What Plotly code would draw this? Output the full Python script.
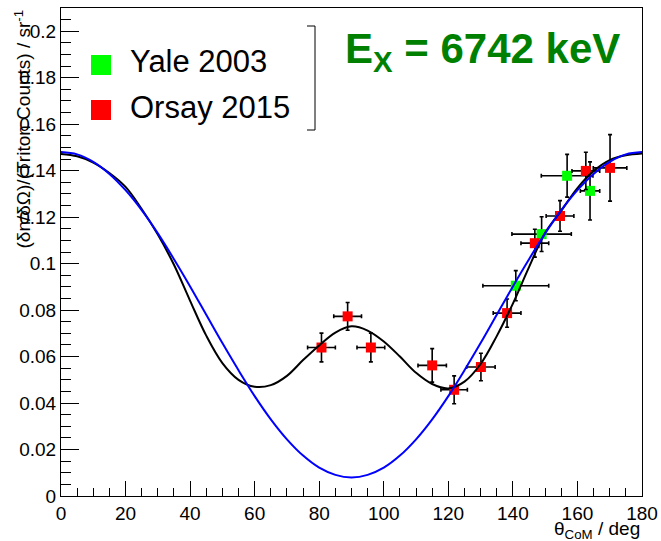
import plotly.graph_objects as go

# ---- data ----
yale_theta = [140.9, 148.9, 156.8, 163.9]
yale_theta_err = [10.2, 9.2, 8.0, 3.0]
yale_y = [0.0905, 0.1127, 0.1378, 0.1313]
yale_y_err = [0.0065, 0.0075, 0.0092, 0.0125]

orsay_theta = [80.7, 88.8, 96.0, 115.0, 121.8, 130.1, 138.2, 146.8, 154.6, 162.6, 170.1]
orsay_theta_err = [4.3, 4.3, 4.3, 4.4, 4.1, 4.4, 4.3, 4.3, 4.3, 4.3, 5.2]
orsay_y = [0.0639, 0.0773, 0.0639, 0.0562, 0.0457, 0.0555, 0.0787, 0.1088, 0.1205, 0.1399, 0.1412]
orsay_y_err = [0.0062, 0.0060, 0.0062, 0.0072, 0.0060, 0.0059, 0.0061, 0.0060, 0.0066, 0.0080, 0.0143]

# black fit curve
black_theta = [0, 5, 10, 15, 20, 25, 30, 35, 40, 45, 50, 55, 60, 65, 70, 75, 80, 85, 90,
               95, 100, 105, 110, 115, 120, 125, 130, 135, 140, 145, 150, 155, 160, 165,
               170, 175, 180]
black_y = [0.1472, 0.1462, 0.1435, 0.1390, 0.1330, 0.1235, 0.1125, 0.0995, 0.0840, 0.0690,
           0.0572, 0.0500, 0.0470, 0.0477, 0.0517, 0.0585, 0.0648, 0.0703, 0.0730,
           0.0712, 0.0665, 0.0600, 0.0530, 0.0482, 0.0463, 0.0492, 0.0568, 0.0688, 0.0828,
           0.0985, 0.1133, 0.1228, 0.1325, 0.1398, 0.1445, 0.1466, 0.1474]

# blue fit curve
blue_theta = [0, 5, 10, 15, 20, 25, 30, 35, 40, 45, 50, 55, 60, 65, 70, 75, 80, 85, 90,
              95, 100, 105, 110, 115, 120, 125, 130, 135, 140, 145, 150, 155, 160, 165,
              170, 175, 180]
blue_y = [0.148, 0.147, 0.1438, 0.1386, 0.1316, 0.123, 0.113, 0.1019, 0.0902, 0.078,
          0.0658, 0.0541, 0.043, 0.033, 0.0244, 0.0174, 0.0122, 0.0091, 0.008,
          0.0091, 0.0122, 0.0174, 0.0244, 0.033, 0.043, 0.0541, 0.0658, 0.078, 0.0902,
          0.1019, 0.113, 0.123, 0.1316, 0.1386, 0.1438, 0.147, 0.148]

x_ticks = [0, 20, 40, 60, 80, 100, 120, 140, 160, 180]
y_ticks = [0, 0.02, 0.04, 0.06, 0.08, 0.1, 0.12, 0.14, 0.16, 0.18, 0.2]
y_tick_text = ["0", "0.02", "0.04", "0.06", "0.08", "0.1", "0.12", "0.14", "0.16", "0.18", "0.2"]

legend_names = ["Yale 2003", "Orsay 2015"]
legend_colors = ["#00ff00", "#ff0000"]

FONT = "Liberation Sans, Arial, sans-serif"

fig = go.Figure()

def err(arr):
    return dict(type="data", array=arr, visible=True, color="black", thickness=1.6, width=2)

fig.add_trace(go.Scatter(
    x=yale_theta, y=yale_y, mode="markers", name=legend_names[0], showlegend=False,
    marker=dict(symbol="square", size=10, color=legend_colors[0], line=dict(width=0)),
    error_x=err(yale_theta_err), error_y=err(yale_y_err)))
fig.add_trace(go.Scatter(
    x=orsay_theta, y=orsay_y, mode="markers", name=legend_names[1], showlegend=False,
    marker=dict(symbol="square", size=10, color=legend_colors[1], line=dict(width=0)),
    error_x=err(orsay_theta_err), error_y=err(orsay_y_err)))
fig.add_trace(go.Scatter(
    x=black_theta, y=black_y, mode="lines", showlegend=False,
    line=dict(color="black", width=2, shape="spline", smoothing=1.0)))
fig.add_trace(go.Scatter(
    x=blue_theta, y=blue_y, mode="lines", showlegend=False,
    line=dict(color="#0000ff", width=2, shape="spline", smoothing=1.0)))

L, R, T, B = 61, 642, 8, 496
W, H = 661, 541

def px(x):
    return (x - L) / (R - L)

def py(y):
    return (B - y) / (B - T)

shapes = []
# legend bracket (right border of legend box)
for seg in [((315, 26), (315, 130)), ((307, 26), (315, 26)), ((307, 130), (315, 130))]:
    (x0, y0), (x1, y1) = seg
    shapes.append(dict(type="line", xref="paper", yref="paper",
                       x0=px(x0), y0=py(y0), x1=px(x1), y1=py(y1),
                       line=dict(color="black", width=1)))
# legend swatches
for i, c in enumerate(legend_colors):
    cy = 65 + 45 * i
    shapes.append(dict(type="rect", xref="paper", yref="paper",
                       x0=px(91), x1=px(111), y0=py(cy - 10), y1=py(cy + 10),
                       fillcolor=c, line=dict(width=0)))

annotations = []
for i, n in enumerate(legend_names):
    annotations.append(dict(text=n, xref="paper", yref="paper", x=px(128), y=py(62 + 45 * i),
                            xanchor="left", yanchor="middle", showarrow=False,
                            font=dict(family=FONT, size=31, color="black")))
annotations.append(dict(text="<b>E<sub>X</sub> = 6742 keV</b>", xref="paper", yref="paper",
                        x=px(343), y=py(52), xanchor="left", yanchor="middle", showarrow=False,
                        font=dict(family=FONT, size=42, color="#008000")))
annotations.append(dict(text="θ<sub>CoM</sub> / deg", xref="paper", yref="paper",
                        x=1.0, y=py(516), xanchor="right", yanchor="top", showarrow=False,
                        font=dict(family=FONT, size=19, color="black")))
annotations.append(dict(text="(δn/δΩ)/(Triton Counts) / sr<sup>-1</sup>", xref="paper", yref="paper",
                        x=px(22), y=1.0, xanchor="center", yanchor="top", textangle=-90,
                        showarrow=False, font=dict(family=FONT, size=19, color="black")))

fig.update_layout(
    width=W, height=H,
    margin=dict(l=L, r=W - R, t=T, b=H - B, pad=0),
    paper_bgcolor="white", plot_bgcolor="white",
    font=dict(family=FONT, size=19, color="black"),
    shapes=shapes, annotations=annotations, showlegend=False,
)
fig.update_xaxes(
    range=[0, 180], tickvals=x_ticks, ticks="inside", ticklen=15, tickwidth=1, tickcolor="black",
    showline=True, linecolor="black", linewidth=1, mirror=True, showgrid=False, zeroline=False,
    tickfont=dict(family=FONT, size=19, color="black"), automargin=False,
    minor=dict(dtick=5, tick0=0, ticks="inside", ticklen=8, tickwidth=1, tickcolor="black", showgrid=False))
fig.update_yaxes(
    range=[0, 0.21], tickvals=y_ticks, ticktext=y_tick_text, ticks="inside", ticklen=18, tickwidth=1,
    tickcolor="black", automargin=False,
    showline=True, linecolor="black", linewidth=1, mirror=True, showgrid=False, zeroline=False,
    tickfont=dict(family=FONT, size=19, color="black"),
    minor=dict(dtick=0.005, tick0=0, ticks="inside", ticklen=10, tickwidth=1, tickcolor="black", showgrid=False))

fig.write_html("out.html", config={"displayModeBar": False},
               post_script="document.body.style.margin='0';document.body.style.overflow='hidden';")
